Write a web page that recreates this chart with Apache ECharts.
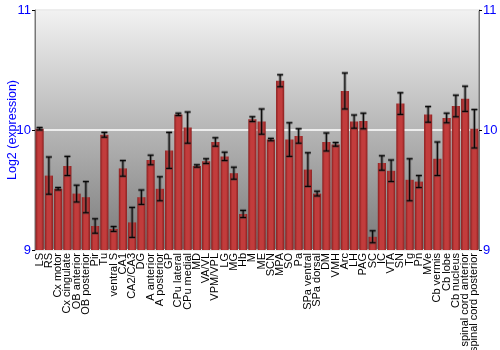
<!DOCTYPE html>
<html><head><meta charset="utf-8">
<script src="https://cdn.jsdelivr.net/npm/echarts@6/dist/echarts.min.js"></script>
<style>html,body{margin:0;padding:0;background:#fff}#c{width:500px;height:350px}</style>
</head><body><div id="c"></div>
<script>
const categories = ["LS","RS","Cx motor","Cx cingulate","OB anterior","OB posterior","Pir","Tu","ventral S","CA1","CA2/CA3","DG","A anterior","A posterior","GP","CPu lateral","CPu medial","MD","VA/VL","VPM/VPL","LG","MG","Hb","M","ME","SCN","MPA","SO","Pa","SPa ventral","SPa dorsal","DM","VMH","Arc","LH","PAG","SC","IC","VTA","SN","Tg","Pn","MVe","Cb vermis","Cb lobe","Cb nucleus","spinal cord anterior","spinal cord posterior"];
const values = [10.01,9.62,9.51,9.70,9.47,9.44,9.20,9.96,9.175,9.68,9.23,9.44,9.75,9.51,9.83,10.13,10.02,9.70,9.74,9.90,9.78,9.64,9.30,10.09,10.07,9.92,10.41,9.92,9.95,9.67,9.47,9.90,9.88,10.325,10.07,10.075,9.11,9.725,9.66,10.22,9.585,9.57,10.13,9.76,10.10,10.20,10.26,10.01];
const errors = [0.01,0.155,0.01,0.08,0.07,0.13,0.06,0.02,0.02,0.065,0.125,0.06,0.04,0.10,0.15,0.01,0.13,0.01,0.02,0.035,0.035,0.05,0.03,0.02,0.105,0.01,0.05,0.14,0.06,0.14,0.02,0.075,0.015,0.15,0.055,0.065,0.05,0.06,0.09,0.09,0.175,0.05,0.065,0.14,0.04,0.09,0.105,0.16];
const yTicks = [9,10,11];

const chart = echarts.init(document.getElementById('c'));
const errData = values.map((v,i)=>[i, v-errors[i], v+errors[i]]);
const font = 'Liberation Sans, Arial, sans-serif';
chart.setOption({
  animation:false,
  grid:{left:35,right:21,top:10,bottom:100,show:true,borderColor:'#777',borderWidth:1,
    containLabel:false,outerBoundsMode:'none',
    backgroundColor:new echarts.graphic.LinearGradient(0,0,0,1,[{offset:0,color:'#f2f2f2'},{offset:1,color:'#7a7a7a'}])},
  xAxis:{type:'category',data:categories,
    axisLine:{show:false},axisTick:{show:false},
    axisLabel:{rotate:90,interval:0,color:'#000',fontSize:11,fontFamily:font,margin:3}},
  yAxis:[{type:'value',min:9,max:11,interval:1,name:'Log2 (expression)',nameLocation:'middle',nameGap:16,
    nameMoveOverlap:false,
    nameTextStyle:{color:'#0000ff',fontSize:12.5,fontFamily:font},
    axisLine:{show:true,lineStyle:{color:'#777'}},axisTick:{show:true,length:3,lineStyle:{color:'#000'}},
    axisLabel:{color:'#0000ff',fontSize:13,fontFamily:font,margin:4},
    splitLine:{show:true,lineStyle:{color:'#ffffff',width:1.5}}},
   {type:'value',min:9,max:11,interval:1,position:'right',
    axisLine:{show:true,lineStyle:{color:'#777'}},axisTick:{show:true,length:3,lineStyle:{color:'#000'}},
    axisLabel:{color:'#0000ff',fontSize:13,fontFamily:font,margin:4},splitLine:{show:false}}],
  series:[{type:'bar',data:values,barCategoryGap:'12%',
    itemStyle:{color:new echarts.graphic.LinearGradient(0,0,1,0,[{offset:0,color:'#8a1e1e'},{offset:0.3,color:'#c23c3c'},{offset:0.7,color:'#c23c3c'},{offset:1,color:'#8a1e1e'}])}},
   {type:'custom',data:errData,z:10,
    renderItem:function(params,api){
      const x=api.coord([api.value(0),api.value(1)])[0];
      const lo=api.coord([api.value(0),api.value(1)])[1];
      const hi=api.coord([api.value(0),api.value(2)])[1];
      const w=3;
      const mk=(st)=>[
        {type:'line',shape:{x1:x,y1:lo,x2:x,y2:hi},style:st},
        {type:'line',shape:{x1:x-w,y1:lo,x2:x+w,y2:lo},style:st},
        {type:'line',shape:{x1:x-w,y1:hi,x2:x+w,y2:hi},style:st}];
      return {type:'group',children:[
        ...mk({stroke:'rgba(60,60,60,0.5)',lineWidth:3}),
        ...mk({stroke:'#000',lineWidth:1})]};
    }}]
});
</script></body></html>
